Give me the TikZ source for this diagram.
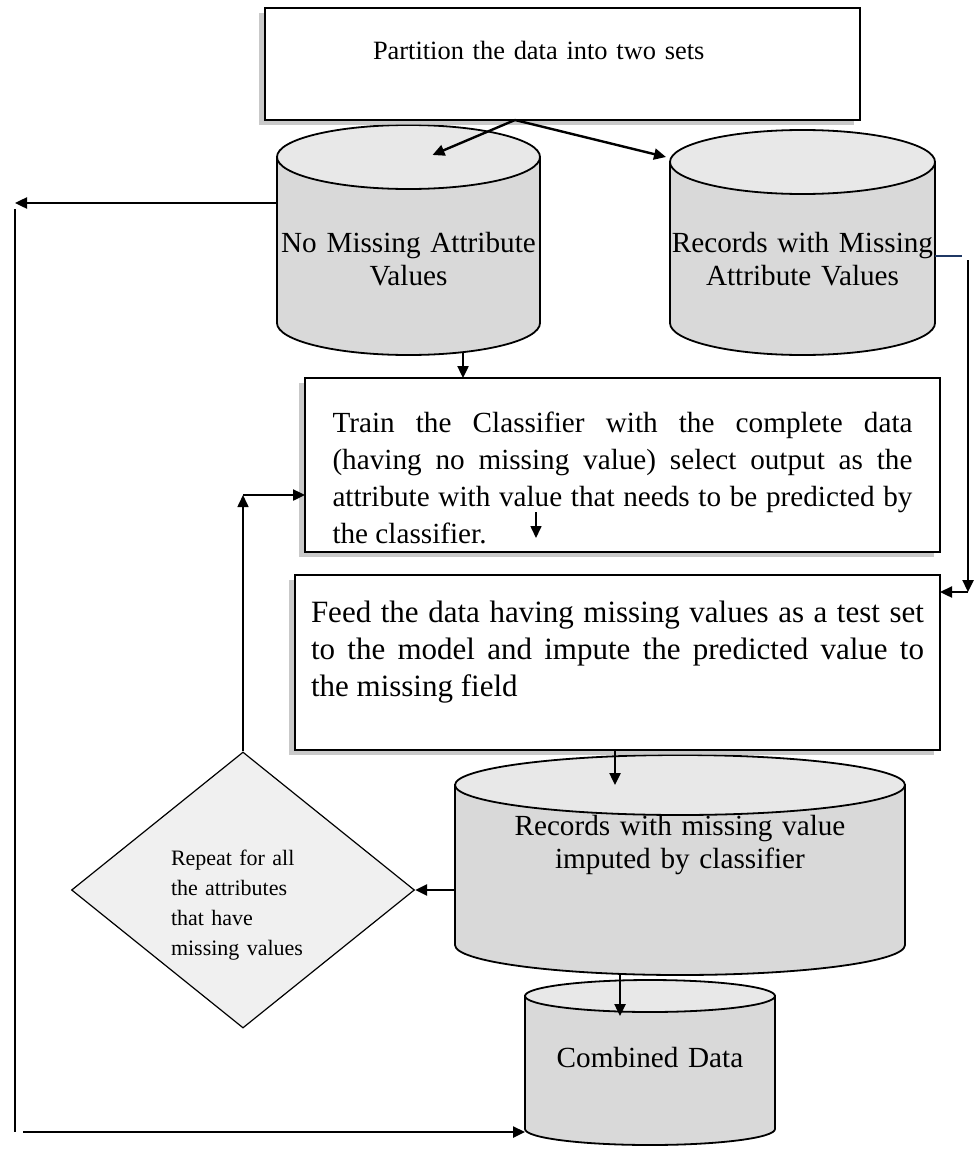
\documentclass[tikz,border=0pt]{standalone}
\usepackage{fontspec}
\setmainfont{Liberation Serif}
\usetikzlibrary{positioning,shapes,arrows.meta,calc,shadows,backgrounds}
\definecolor{dbside}{HTML}{D9D9D9}
\definecolor{dbcap}{HTML}{E8E8E8}
\definecolor{decfill}{HTML}{F0F0F0}
\definecolor{linkblue}{HTML}{1F3864}

\begin{document}
\begin{tikzpicture}
  [
      x=0.5pt, y=0.5pt,
      procbox/.style={rectangle, draw, line width=1.1pt, fill=white, anchor=north west, inner sep=0pt, outer sep=0pt,
        drop shadow={shadow xshift=-3pt, shadow yshift=-2.5pt, fill=black!30, opacity=.7},
        font=\fontsize{14.6}{18.5}\selectfont},
      dbstore/.style={rectangle, anchor=north west, inner sep=0pt, outer sep=0pt, align=center,
        font=\fontsize{14.6}{16.6}\selectfont},
      decision/.style={diamond, draw, line width=0.6pt, fill=decfill, minimum width=171.5pt, minimum height=138pt,
        inner sep=0pt, text width=72pt, align=left, text height=5pt, text depth=30pt,
        font=\fontsize{11}{15}\selectfont},
      flow/.style={-{Triangle[length=6pt, width=5.5pt]}, line width=1.2pt},
      thinflow/.style={-{Triangle[length=6pt, width=5.5pt]}, line width=0.8pt},
    ]
    \useasboundingbox (0,0) rectangle (974,-1151);

    \node (part) [procbox, text width=297.5pt, align=left, text height=25.5pt, text depth=30.5pt,
      font=\fontsize{13.2}{16}\selectfont] at (265,-8)
      {\hspace*{54pt}Partition the data into two sets};
    \node (nomiss) [dbstore, text width=131.5pt, text height=63.5pt, text depth=51.5pt] at (277,-125)
      {No Missing Attribute\\Values};
    \node (withmiss) [dbstore, text width=132.5pt, text height=61pt, text depth=51.5pt] at (670,-130)
      {Records with Missing\\Attribute Values};
    \node (train) [procbox, text width=290pt, minimum width=317.5pt, align=justify, text height=27pt, text depth=60pt] at (305,-378)
      {Train the Classifier with the complete data\linebreak
       (having no missing value) select output as the\linebreak
       attribute with value that needs to be predicted by\linebreak
       the classifier.};
    \node (feed) [procbox, text width=306.5pt, minimum width=322.5pt, align=justify, text height=23.5pt, text depth=64pt,
      font=\fontsize{15.5}{18.7}\selectfont] at (295,-575)
      {Feed the data having missing values as a test set\linebreak
       to the model and impute the predicted value to\linebreak
       the missing field};
    \node (imputed) [dbstore, text width=225pt, text height=40pt, text depth=70pt] at (455,-755)
      {Records with missing value\\imputed by classifier};
    \node (combined) [dbstore, text width=125pt, text height=43.5pt, text depth=39pt] at (525,-980)
      {Combined Data};
    \node (repeat) [decision] at (243,-890)
      {Repeat for all\\the attributes\\that have\\missing values};

    % cylinders behind the stores
    \begin{scope}[on background layer]
      \foreach \db/\ry in {nomiss/16pt, withmiss/16pt, imputed/15pt, combined/8pt}{
        \filldraw[fill=dbside, line width=0.9pt] let \p1=(\db.north west), \p2=(\db.south east), \p3=(\db.north), \n1={(\x2-\x1)/2} in
          (\x1,\y1-\ry) -- (\x1,\y2+\ry) arc[start angle=180, end angle=360, x radius=\n1, y radius=\ry] -- (\x2,\y1-\ry) -- cycle;
        \filldraw[fill=dbcap, line width=0.9pt] let \p1=(\db.north west), \p2=(\db.south east), \p3=(\db.north), \n1={(\x2-\x1)/2} in
          (\x3,\y1-\ry) ellipse[x radius=\n1, y radius=\ry];
      }
    \end{scope}

    \coordinate (split) at ($(part.south west)+(250,0)$);
    \draw [flow] (split) -- ($(nomiss.north)+(24,-30)$);
    \draw [flow] (split) -- ($(withmiss.north west)+(-4,-27)$);

    \coordinate (nmout) at ([xshift=27.25pt,yshift=1.5pt]nomiss.south);
    \draw [flow] (nmout) -- (nmout |- train.north);

    \coordinate (trstart) at (536,-512);
    \coordinate (trtip) at (536,-538);
    \draw [thinflow] (trstart) -- (trtip);

    % loop back along the left edge
    \coordinate (looptop) at (15,-203);
    \coordinate (loopbot) at (15,-1132);
    \draw [flow] (nomiss.west |- looptop) -- (looptop);
    \draw [line width=0.8pt] ([yshift=-3pt]looptop) -- (loopbot);
    \draw [flow] ([xshift=4pt]loopbot) -- (combined.west |- loopbot);

    % records with missing values go to the test step
    \coordinate (rtop) at (968,-256);
    \coordinate (rbot) at (968,-592);
    \draw [linkblue, line width=0.8pt] (withmiss.east |- rtop) -- ([xshift=-3pt]rtop);
    \draw [flow] ([yshift=-2pt]rtop) -- (rbot);
    \draw [flow] (rbot) -- (feed.east |- rbot);

    \coordinate (fdout) at ($(feed.south west)+(320,0)$);
    \draw [flow] (fdout) -- ($(imputed.north west)+(160,-30)$);
    \draw [flow] (imputed.west |- repeat.east) -- (repeat.east);
    \coordinate (imout) at ($(imputed.south west)+(165,0)$);
    \draw [flow] (imout) -- (imout |- combined.north) -- ++(0,-36);

    \coordinate (rpbend) at (245,-495);
    \draw [thinflow] (repeat.north) -- (repeat.north |- rpbend);
    \draw [flow] (repeat.north |- rpbend) -- (train.west |- rpbend);
  \end{tikzpicture}
\end{document}
